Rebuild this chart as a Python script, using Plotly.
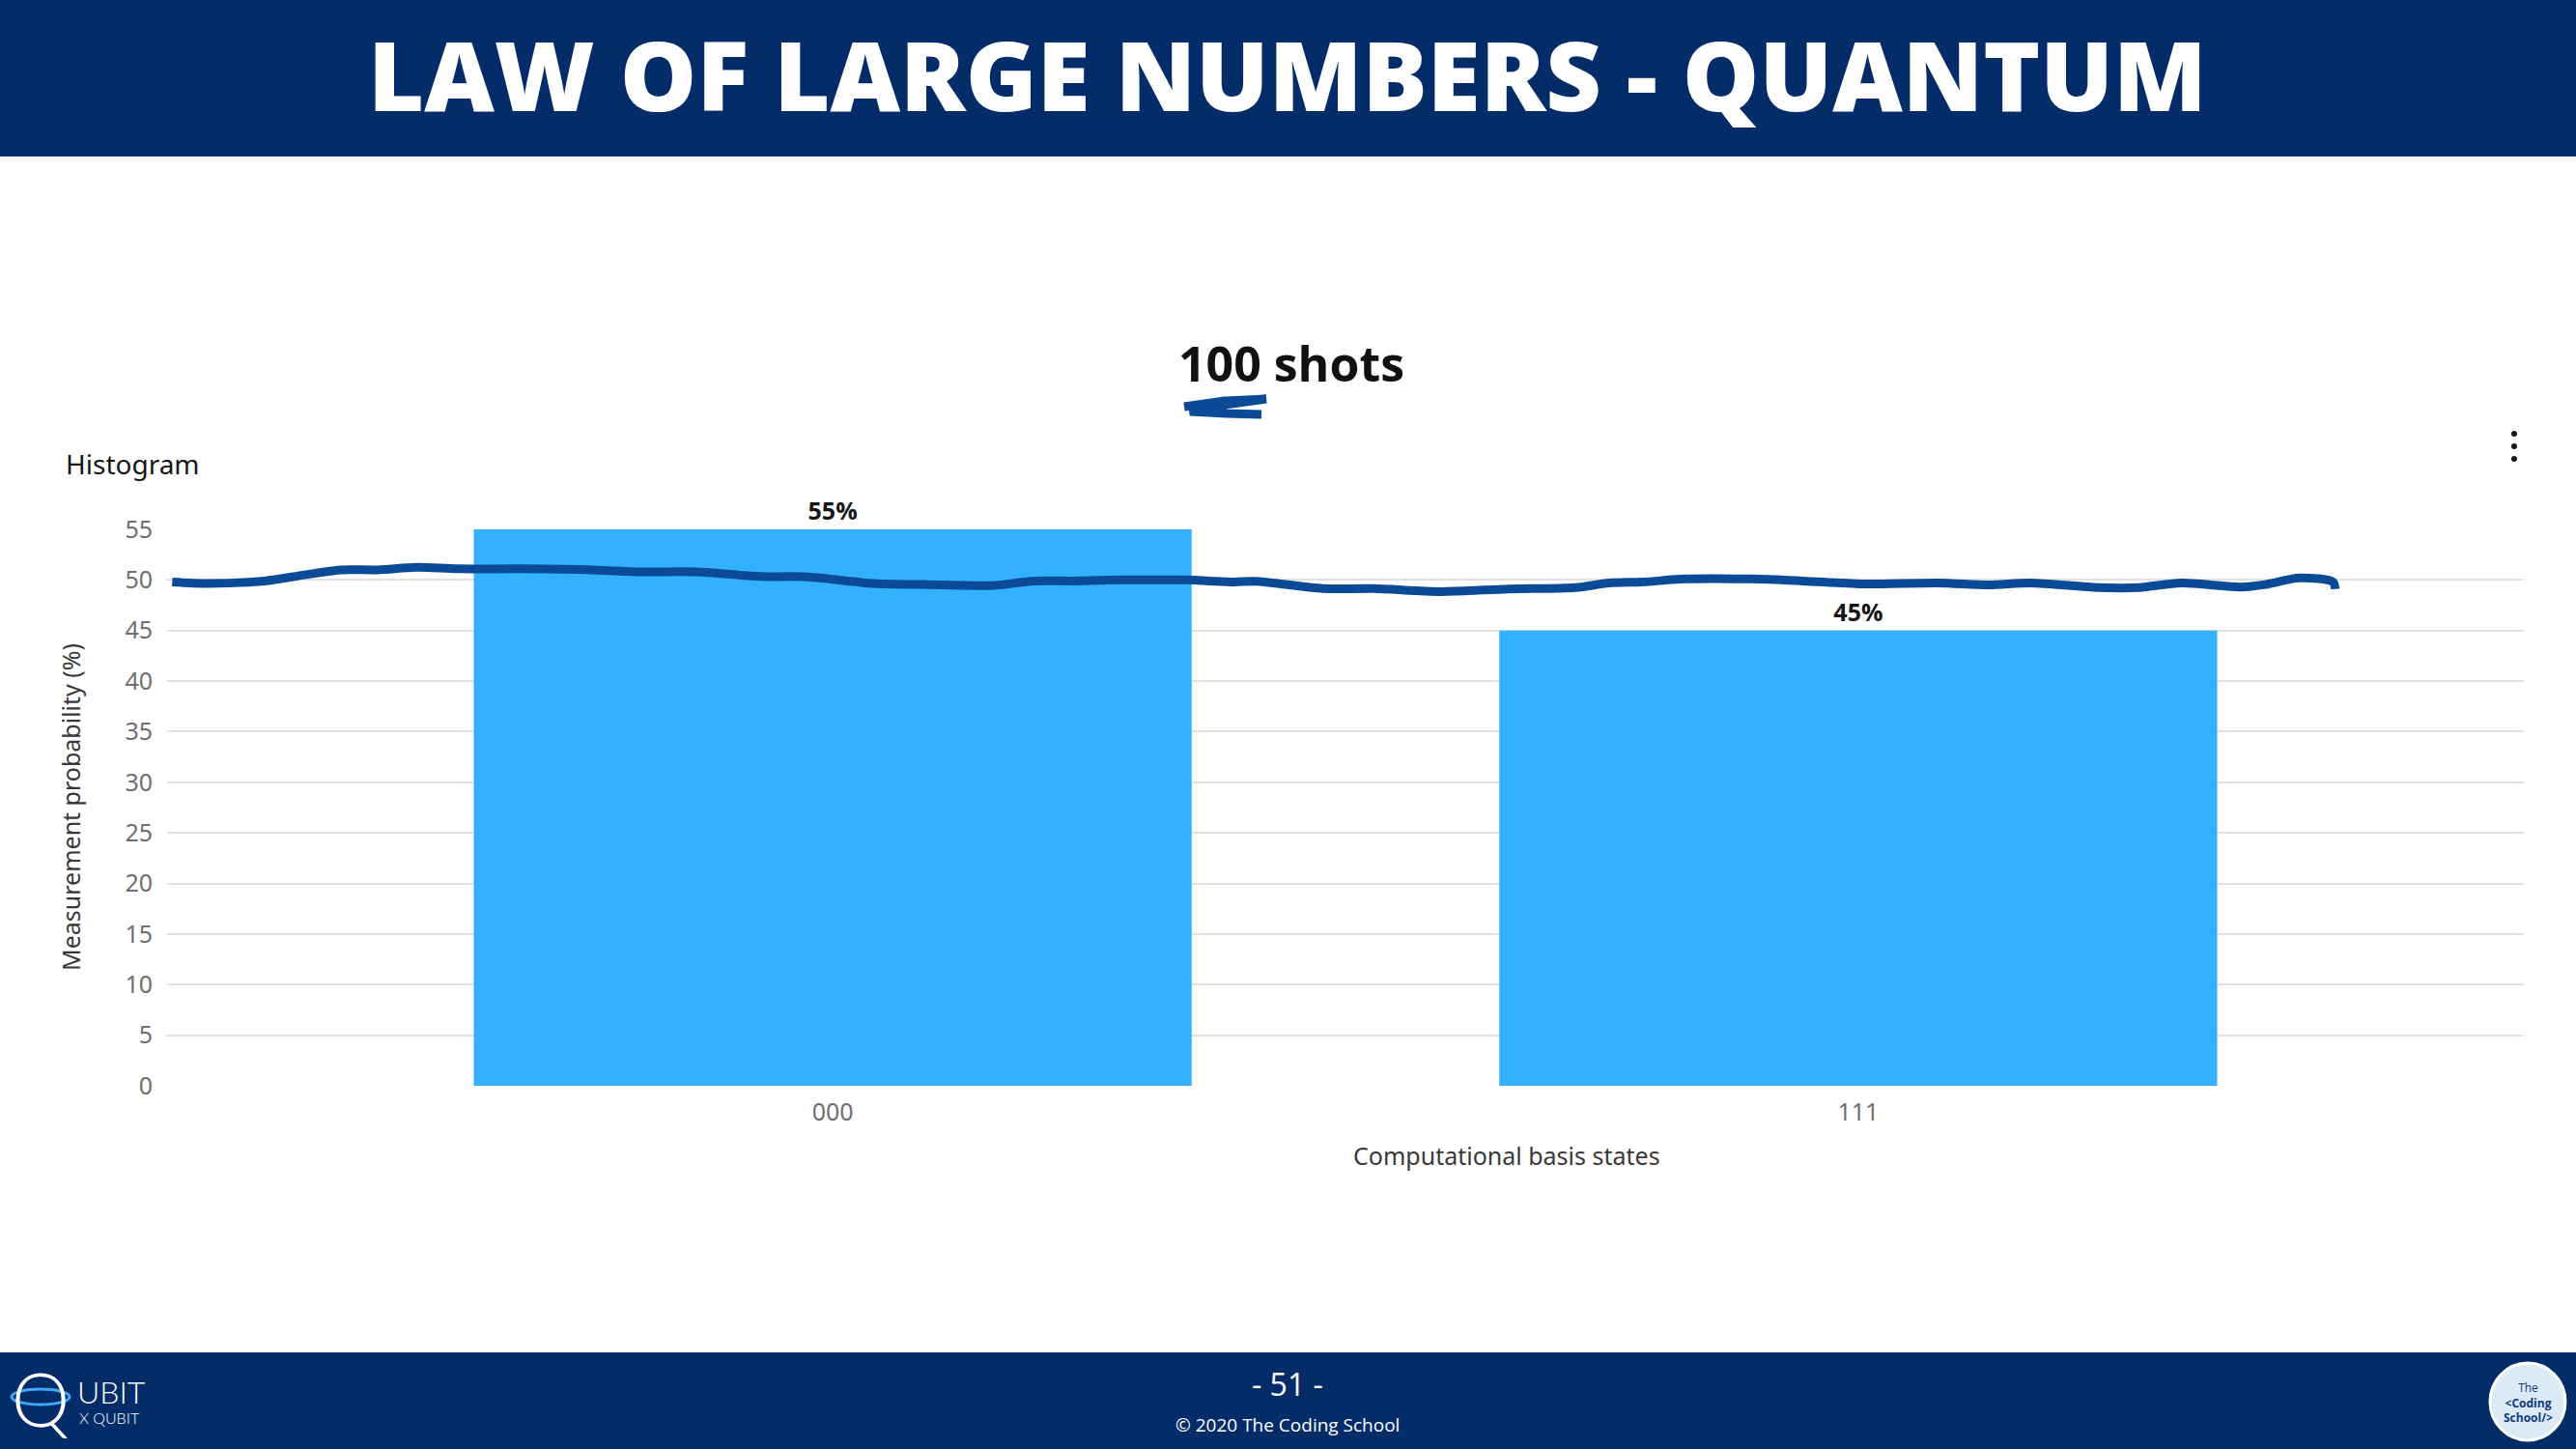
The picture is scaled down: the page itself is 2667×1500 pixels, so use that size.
import plotly.graph_objects as go

# --- data ---
states = ["000", "111"]
probabilities = [55, 45]          # measured share of 100 shots, in %
y_ticks = list(range(0, 60, 5))

# hand-drawn pen stroke across the histogram (x in bar slots, y in %)
stroke_x = [-0.644, -0.608, -0.554, -0.515, -0.480, -0.444, -0.406, -0.366, -0.304, -0.234,
            -0.187, -0.133, -0.070, -0.024, 0.040, 0.087, 0.156, 0.196, 0.234, 0.282,
            0.344, 0.391, 0.412, 0.478, 0.527, 0.593, 0.659, 0.724, 0.757, 0.790,
            0.831, 0.896, 0.946, 1.004, 1.078, 1.127, 1.168, 1.234, 1.274, 1.315,
            1.373, 1.397, 1.430, 1.463, 1.465]
stroke_y = [49.8, 49.65, 49.9, 50.5, 51.0, 51.0, 51.25, 51.1, 51.1, 51.0,
            50.8, 50.8, 50.35, 50.3, 49.65, 49.55, 49.45, 49.9, 49.9, 50.0,
            50.0, 49.8, 49.87, 49.15, 49.15, 48.85, 49.1, 49.25, 49.7, 49.8,
            50.1, 50.1, 49.9, 49.6, 49.7, 49.5, 49.7, 49.25, 49.25, 49.7,
            49.3, 49.55, 50.2, 49.8, 49.1]

NAVY = "#042C68"
PEN = "#0B4A96"
BAR = "#33B1FF"

# --- page geometry (pixels) ---
W, H = 2667, 1500
L, R, T, B = 173, 54, 548, 376


def pp(x, y):
    # pixel -> paper coords
    return (x - L) / (W - L - R), (H - B - y) / (H - T - B)


fig = go.Figure()

fig.add_trace(go.Bar(
    x=list(range(len(states))), y=probabilities, width=0.7,
    marker=dict(color=BAR, line=dict(width=0)),
    texttemplate="%{y}%", textposition="outside", cliponaxis=False,
    textfont=dict(family="Open Sans", size=25, color="#161616", weight=700),
    hoverinfo="skip",
))

fig.add_trace(go.Scatter(
    x=stroke_x, y=stroke_y, mode="lines",
    line=dict(color=PEN, width=9, shape="spline", smoothing=0.8),
    hoverinfo="skip",
))

shapes = []
# top and bottom banners
x0, y0 = pp(-5, -5)
x1, y1 = pp(W + 5, 162)
shapes.append(dict(type="rect", xref="paper", yref="paper", x0=x0, y0=y0, x1=x1, y1=y1,
                   fillcolor=NAVY, line_width=0, layer="below"))
x0, y0 = pp(-5, 1400)
x1, y1 = pp(W + 5, H + 5)
shapes.append(dict(type="rect", xref="paper", yref="paper", x0=x0, y0=y0, x1=x1, y1=y1,
                   fillcolor=NAVY, line_width=0, layer="below"))

# pen underline below "100"
pts = [(1226, 421), (1268, 415), (1311, 413), (1240, 423), (1232, 426), (1270, 428), (1306, 429)]
path = ""
for i, (a, b) in enumerate(pts):
    u, v = pp(a, b)
    path += ("M" if i == 0 else "L") + f"{u:.5f},{v:.5f} "
shapes.append(dict(type="path", xref="paper", yref="paper", path=path,
                   line=dict(color=PEN, width=9)))

# three-dot menu
for yy in (449, 462, 475):
    u0, v0 = pp(2600, yy - 3)
    u1, v1 = pp(2606, yy + 3)
    shapes.append(dict(type="circle", xref="paper", yref="paper", x0=u0, y0=v1, x1=u1, y1=v0,
                       fillcolor="#161616", line_width=0))

# coding school badge
u0, v0 = pp(2578, 1411)
u1, v1 = pp(2656, 1491)
shapes.append(dict(type="circle", xref="paper", yref="paper", x0=u0, y0=v1, x1=u1, y1=v0,
                   fillcolor="#DCEAF6", line=dict(color="white", width=3)))
# qubit ring
u0, v0 = pp(12, 1438)
u1, v1 = pp(72, 1454)
shapes.append(dict(type="circle", xref="paper", yref="paper", x0=u0, y0=v1, x1=u1, y1=v0,
                   fillcolor="rgba(0,0,0,0)", line=dict(color="#3FA9F5", width=3)))

annotations = []


def note(text, x, y, size, color, family="Open Sans", weight=400, angle=0, xanchor="center"):
    u, v = pp(x, y)
    annotations.append(dict(text=text, x=u, y=v, xref="paper", yref="paper", showarrow=False,
                            xanchor=xanchor, yanchor="middle", textangle=angle,
                            font=dict(family=family, size=size, color=color, weight=weight)))


note("LAW OF LARGE NUMBERS - QUANTUM", 1333, 76, 100, "white", weight=800)
note("100 shots", 1337, 376, 50, "#111111", weight=700)
note("Histogram", 66, 480, 28, "#161616", family="Noto Sans", xanchor="left")
note("Measurement probability (%)", 73, 836, 25, "#393939", family="Noto Sans", angle=-90)
note("Computational basis states", 1560, 1196, 25, "#393939", family="Noto Sans")
note("- 51 -", 1333, 1432, 32, "white")
note("© 2020 The Coding School", 1333, 1475, 19, "white")
note("Q", 42, 1447, 76, "white", family="Lato", weight=300)
note("UBIT", 78, 1440, 32, "white", family="Lato", weight=300, xanchor="left")
note("X QUBIT", 80, 1467, 16, "white", family="Lato", weight=300, xanchor="left")
note("The<br><b>&lt;Coding<br>School/&gt;</b>", 2617, 1452, 12, "#0B3B80")

fig.update_layout(
    width=W, height=H,
    margin=dict(l=L, r=R, t=T, b=B),
    paper_bgcolor="white", plot_bgcolor="white",
    showlegend=False,
    shapes=shapes, annotations=annotations,
    xaxis=dict(range=[-0.649, 1.649], tickvals=list(range(len(states))), ticktext=states,
               showgrid=False, zeroline=False, showline=False, ticks="", ticklabelstandoff=10,
               tickfont=dict(family="Noto Sans", size=25, color="#6F6F6F")),
    yaxis=dict(range=[0, 55], tickvals=y_ticks, showgrid=True, gridcolor="#E0E0E0", gridwidth=2,
               zeroline=False, showline=False, ticks="", ticklabelstandoff=14,
               tickfont=dict(family="Noto Sans", size=25, color="#6F6F6F")),
)

fig.write_html("out.html", config={"displayModeBar": False},
               post_script="document.body.style.margin='0';")
